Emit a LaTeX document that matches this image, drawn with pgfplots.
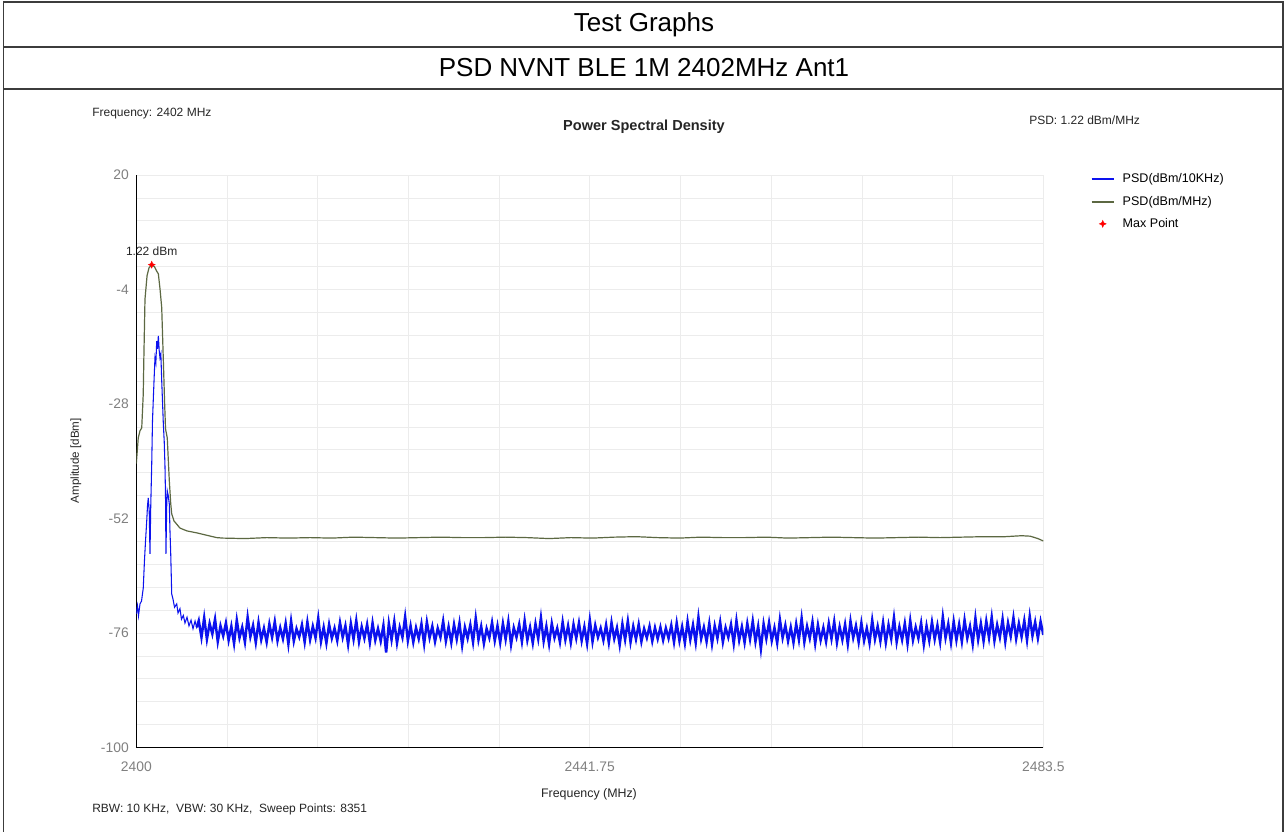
\documentclass[border=0pt]{standalone}
\usepackage{fontspec}
\setmainfont{Liberation Sans}
\usepackage{pgfplots}
\pgfplotsset{compat=1.18}
\usetikzlibrary{plotmarks}
\definecolor{psdblue}{RGB}{12,18,238}
\definecolor{psdgreen}{RGB}{92,104,66}
\definecolor{gridc}{RGB}{236,236,236}
\definecolor{tickc}{RGB}{128,128,128}
\definecolor{framec}{RGB}{60,60,60}
\pgfdeclareplotmark{star4}{%
  \pgfpathmoveto{\pgfqpoint{0pt}{\pgfplotmarksize}}%
  \pgfpathlineto{\pgfqpoint{0.3\pgfplotmarksize}{0.3\pgfplotmarksize}}%
  \pgfpathlineto{\pgfqpoint{\pgfplotmarksize}{0pt}}%
  \pgfpathlineto{\pgfqpoint{0.3\pgfplotmarksize}{-0.3\pgfplotmarksize}}%
  \pgfpathlineto{\pgfqpoint{0pt}{-\pgfplotmarksize}}%
  \pgfpathlineto{\pgfqpoint{-0.3\pgfplotmarksize}{-0.3\pgfplotmarksize}}%
  \pgfpathlineto{\pgfqpoint{-\pgfplotmarksize}{0pt}}%
  \pgfpathlineto{\pgfqpoint{-0.3\pgfplotmarksize}{0.3\pgfplotmarksize}}%
  \pgfpathclose
  \pgfusepathqfillstroke}
\begin{document}
\begin{tikzpicture}
\begin{scope}[x=0.75pt,y=0.75pt]
\useasboundingbox (0,0) rectangle (1287,831);
\fill[white] (0,0) rectangle (1287,831);
\end{scope}
\begin{axis}[
  at={(102.225pt,63.225pt)}, anchor=south west,
  scale only axis, width=680.25pt, height=429.3pt,
  xmin=2400, xmax=2483.5, ymin=-100, ymax=20,
  clip mode=individual,
  axis lines=left, axis line style={-, black, line width=0.8pt},
  xtick={2400,2441.75,2483.5}, xticklabels={2400,2441.75,2483.5},
  ytick={-100,-76,-52,-28,-4,20}, yticklabels={-100,-76,-52,-28,-4,20},
  minor x tick num=4, minor y tick num=4,
  grid=both,
  major grid style={gridc, line width=0.6pt},
  minor grid style={gridc, line width=0.6pt},
  tick style={draw=none},
  ticklabel style={font=\fontsize{10.4}{12}\selectfont, text=tickc},
  xticklabel style={yshift=-5pt},
  legend style={at={(1.052,1.0075)}, anchor=north west, draw=none, fill=none,
    font=\fontsize{9.4}{11}\selectfont, row sep=4.4pt, column sep=4pt, inner sep=0pt,
    cells={anchor=west}},
  legend image code/.code={\draw[mark repeat=2,mark phase=2,#1,line width=1.5pt] plot coordinates {(0pt,0pt)(8.25pt,0pt)(16.5pt,0pt)};},
]
% PSD dBm/10KHz : main lobe
\addplot[psdblue, line width=0.8pt] coordinates {
(2400,-72.0)(2400.11,-70.3)(2400.20,-72.4)(2400.34,-69.9)(2400.48,-69.3)(2400.64,-66.6)(2400.75,-60.9)(2400.85,-56.7)(2400.96,-52.5)(2401.03,-49.4)
(2401.10,-47.7)(2401.19,-50.4)(2401.26,-59.4)(2401.33,-49.4)(2401.42,-40.6)(2401.49,-31.6)(2401.57,-26.7)(2401.65,-22.1)(2401.72,-18.3)(2401.80,-19.4)
(2401.88,-14.8)(2401.95,-16.4)(2402.03,-13.7)(2402.11,-16.8)(2402.18,-18.3)(2402.26,-17.5)(2402.34,-23.1)(2402.41,-27.3)(2402.49,-32.2)(2402.57,-35.8)
(2402.64,-41.0)(2402.69,-47.5)(2402.73,-59.4)(2402.80,-49.4)(2402.85,-46.2)(2402.95,-47.3)(2403.04,-49.0)(2403.10,-54.6)(2403.17,-59.4)(2403.26,-67.8)
(2403.38,-68.9)(2403.52,-70.6)(2403.72,-69.9)(2403.84,-71.8)(2404.02,-70.9)(2404.16,-73.1)(2404.33,-72.3)(2404.48,-73.9)(2404.67,-72.7)(2404.85,-74.5)
(2405.04,-73.3)(2405.22,-75.1)(2405.41,-73.5)(2405.56,-74.8)(2405.75,-73.4)
};
\addlegendentry{PSD(dBm/10KHz)}
% PSD dBm/10KHz : noise floor
\addplot[psdblue, line width=1.85pt, forget plot] coordinates {
(2405.56,-74.8)
(2405.75,-73.4)(2406,-76.9)(2406.25,-72.8)(2406.5,-77.3)(2406.75,-74.0)(2407,-76.2)(2407.25,-73.1)(2407.5,-77.8)(2407.75,-74.5)(2408,-76.6)
(2408.25,-73.9)(2408.5,-77.5)(2408.75,-74.6)(2409,-78.2)(2409.25,-73.3)(2409.5,-77.0)(2409.75,-74.8)(2410,-77.9)(2410.25,-72.7)(2410.5,-76.8)
(2410.75,-74.4)(2411,-78.0)(2411.25,-73.8)(2411.5,-77.4)(2411.75,-75.0)(2412,-77.9)(2412.25,-74.1)(2412.5,-76.9)(2412.75,-73.6)(2413,-77.6)
(2413.25,-74.9)(2413.5,-77.2)(2413.75,-74.0)(2414,-78.3)(2414.25,-73.5)(2414.5,-77.7)(2414.75,-75.1)(2415,-76.8)(2415.25,-74.3)(2415.5,-77.9)
(2415.75,-73.7)(2416,-77.4)(2416.25,-74.6)(2416.5,-77.0)(2416.75,-72.9)(2417,-77.8)(2417.25,-74.8)(2417.5,-78.1)(2417.75,-74.2)(2418,-77.1)
(2418.25,-75.0)(2418.5,-77.6)(2418.75,-73.8)(2419,-76.9)(2419.25,-74.5)(2419.5,-78.4)(2419.75,-74.0)(2420,-77.3)(2420.25,-73.4)(2420.5,-77.8)
(2420.75,-74.7)(2421,-77.1)(2421.25,-74.2)(2421.5,-78.0)(2421.75,-73.9)(2422,-77.5)(2422.25,-75.1)(2422.5,-77.7)(2422.75,-74.4)(2423,-80.1)
(2423.25,-74.0)(2423.5,-77.4)(2423.75,-73.6)(2424,-78.1)(2424.25,-74.8)(2424.5,-76.9)(2424.75,-72.6)(2425,-77.6)(2425.25,-74.5)(2425.5,-77.9)
(2425.75,-74.9)(2426,-77.2)(2426.25,-74.1)(2426.5,-78.3)(2426.75,-73.7)(2427,-77.0)(2427.25,-74.6)(2427.5,-77.8)(2427.75,-75.0)(2428,-76.9)
(2428.25,-73.5)(2428.5,-77.7)(2428.75,-74.7)(2429,-78.0)(2429.25,-74.2)(2429.5,-77.3)(2429.75,-73.9)(2430,-78.6)(2430.25,-74.8)(2430.5,-77.1)
(2430.75,-74.3)(2431,-77.9)(2431.25,-72.9)(2431.5,-77.4)(2431.75,-74.6)(2432,-78.2)(2432.25,-75.1)(2432.5,-77.0)(2432.75,-73.8)(2433,-77.6)
(2433.25,-74.5)(2433.5,-78.0)(2433.75,-74.0)(2434,-77.3)(2434.25,-73.6)(2434.5,-78.4)(2434.75,-74.9)(2435,-76.9)(2435.25,-74.2)(2435.5,-77.8)
(2435.75,-73.4)(2436,-77.5)(2436.25,-74.8)(2436.5,-78.1)(2436.75,-74.1)(2437,-77.2)(2437.25,-72.8)(2437.5,-77.7)(2437.75,-74.6)(2438,-78.3)
(2438.25,-74.0)(2438.5,-77.0)(2438.75,-75.0)(2439,-77.9)(2439.25,-73.7)(2439.5,-77.4)(2439.75,-74.5)(2440,-78.0)(2440.25,-74.2)(2440.5,-77.1)
(2440.75,-73.9)(2441,-77.6)(2441.25,-74.7)(2441.5,-78.2)(2441.75,-73.3)(2442,-77.8)(2442.25,-74.4)(2442.5,-76.9)(2442.75,-75.0)(2443,-77.5)
(2443.25,-74.3)(2443.5,-78.0)(2443.75,-73.8)(2444,-77.2)(2444.25,-74.9)(2444.5,-78.5)(2444.75,-74.1)(2445,-77.4)(2445.25,-73.5)(2445.5,-77.9)
(2445.75,-74.6)(2446,-77.3)(2446.25,-74.2)(2446.5,-77.8)(2446.75,-75.1)(2447,-77.0)(2447.25,-74.6)(2447.5,-77.7)(2447.75,-74.9)(2448,-77.2)
(2448.25,-74.8)(2448.5,-77.5)(2448.75,-75.0)(2449,-77.1)(2449.25,-74.4)(2449.5,-77.9)(2449.75,-73.9)(2450,-77.6)(2450.25,-74.7)(2450.5,-78.1)
(2450.75,-73.6)(2451,-77.4)(2451.25,-74.3)(2451.5,-78.0)(2451.75,-72.7)(2452,-77.2)(2452.25,-74.8)(2452.5,-77.8)(2452.75,-74.0)(2453,-78.3)
(2453.25,-74.5)(2453.5,-77.1)(2453.75,-73.7)(2454,-77.9)(2454.25,-74.9)(2454.5,-76.9)(2454.75,-74.2)(2455,-78.2)(2455.25,-73.4)(2455.5,-77.5)
(2455.75,-74.7)(2456,-78.0)(2456.25,-74.0)(2456.5,-77.3)(2456.75,-73.5)(2457,-77.8)(2457.25,-74.6)(2457.5,-79.3)(2457.75,-74.1)(2458,-77.2)
(2458.25,-73.8)(2458.5,-77.6)(2458.75,-74.9)(2459,-78.1)(2459.25,-73.2)(2459.5,-77.0)(2459.75,-74.4)(2460,-77.7)(2460.25,-74.8)(2460.5,-78.0)
(2460.75,-74.1)(2461,-77.4)(2461.25,-72.9)(2461.5,-77.9)(2461.75,-74.6)(2462,-77.1)(2462.25,-73.7)(2462.5,-78.2)(2462.75,-74.3)(2463,-77.5)
(2463.25,-74.9)(2463.5,-77.8)(2463.75,-74.0)(2464,-77.2)(2464.25,-73.6)(2464.5,-78.0)(2464.75,-74.7)(2465,-77.4)(2465.25,-74.2)(2465.5,-78.3)
(2465.75,-73.5)(2466,-77.0)(2466.25,-74.5)(2466.5,-77.9)(2466.75,-73.9)(2467,-77.6)(2467.25,-75.0)(2467.5,-78.1)(2467.75,-73.3)(2468,-77.3)
(2468.25,-74.6)(2468.5,-77.7)(2468.75,-73.8)(2469,-78.0)(2469.25,-74.3)(2469.5,-77.2)(2469.75,-72.8)(2470,-77.9)(2470.25,-74.7)(2470.5,-77.4)
(2470.75,-74.0)(2471,-78.2)(2471.25,-73.4)(2471.5,-77.5)(2471.75,-74.8)(2472,-77.1)(2472.25,-73.9)(2472.5,-78.4)(2472.75,-74.5)(2473,-77.6)
(2473.25,-73.7)(2473.5,-77.3)(2473.75,-74.4)(2474,-77.9)(2474.25,-72.6)(2474.5,-77.0)(2474.75,-74.1)(2475,-78.0)(2475.25,-73.6)(2475.5,-77.5)
(2475.75,-74.2)(2476,-77.8)(2476.25,-73.3)(2476.5,-77.1)(2476.75,-74.6)(2477,-78.3)(2477.25,-72.9)(2477.5,-77.4)(2477.75,-74.0)(2478,-77.7)
(2478.25,-73.5)(2478.5,-77.0)(2478.75,-72.7)(2479,-77.6)(2479.25,-74.3)(2479.5,-76.9)(2479.75,-73.1)(2480,-77.8)(2480.25,-73.9)(2480.5,-76.7)
(2480.75,-72.8)(2481,-77.2)(2481.25,-74.0)(2481.5,-76.8)(2481.75,-73.4)(2482,-77.5)(2482.25,-72.5)(2482.5,-76.6)(2482.75,-73.7)(2483,-77.1)
(2483.25,-73.6)(2483.5,-76.4)
};
% PSD dBm/MHz
\addplot[psdgreen, line width=0.9pt, line join=round] coordinates {
(2400,-40.5)(2400.18,-35.1)(2400.34,-33.6)(2400.50,-33.0)(2400.64,-25.9)(2400.69,-19.0)(2400.80,-6.0)(2400.99,-1.1)(2401.17,0.56)(2401.42,1.22)
(2401.68,0.77)(2401.86,-0.07)(2402.03,-0.7)(2402.18,-3.8)(2402.34,-7.8)(2402.49,-18.9)(2402.60,-27.3)(2402.69,-33.2)(2402.85,-35.1)(2402.95,-39.9)
(2403.04,-44.1)(2403.17,-48.9)(2403.26,-51.0)(2403.47,-52.5)(2404.02,-54.0)(2404.67,-54.6)(2405.56,-55.0)(2407.40,-56.0)
(2408,-56.1)(2410,-56.2)(2412,-56.0)(2414,-56.1)(2416,-56.0)(2418,-56.1)(2420,-55.9)(2422,-56.0)(2424,-56.1)(2426,-56.0)
(2428,-55.9)(2430,-56.0)(2432,-56.0)(2434,-55.9)(2436,-56.0)(2438,-56.2)(2440,-56.0)(2442,-56.1)(2444,-55.9)(2446,-55.8)
(2448,-56.0)(2450,-56.1)(2452,-55.9)(2454,-56.0)(2456,-56.0)(2458,-55.9)(2460,-56.1)(2462,-56.0)(2464,-55.9)(2466,-56.0)
(2468,-56.1)(2470,-56.0)(2472,-55.9)(2474,-56.0)(2476,-55.9)(2478,-55.8)(2480,-55.8)(2481.5,-55.6)(2482.3,-55.7)(2483,-56.2)(2483.5,-56.7)
};
\addlegendentry{PSD(dBm/MHz)}
% Max point
\addplot[only marks, mark=star4, red, mark size=2.6pt, mark options={fill=red, draw=red, line width=0.3pt}] coordinates {(2401.42,1.22)};
\addlegendentry{Max Point}
\node[above=5.5pt, text=black!85, font=\fontsize{9}{11}\selectfont, inner sep=1pt] at (axis cs:2401.42,1.22) {1.22 dBm};
\end{axis}
\begin{scope}[x=0.75pt,y=0.75pt]
% table frame
\draw[framec, line width=1.2pt] (3.5,831) -- (3.5,829.5) -- (1283,829.5) -- (1283,831);
\draw[framec, line width=1.2pt] (3.5,829.5) -- (3.5,0);
\draw[framec, line width=1.2pt] (1283,829.5) -- (1283,0);
\draw[framec, line width=1.2pt] (3.5,785) -- (1283,785);
\draw[framec, line width=1.2pt] (3.5,743) -- (1283,743);
\node[font=\fontsize{19.5}{22}\selectfont] at (644,807) {Test Graphs};
\node[font=\fontsize{19.5}{22}\selectfont] at (644,764) {PSD NVNT BLE 1M 2402MHz Ant1};
% chart texts
\node[anchor=west, font=\fontsize{9}{11}\selectfont, inner sep=0pt, text=black!85] at (92,718) {Frequency: 2402 MHz};
\node[font=\bfseries\fontsize{10.9}{13}\selectfont, inner sep=0pt, text=black!85] at (644,705) {Power Spectral Density};
\node[anchor=west, font=\fontsize{9}{11}\selectfont, inner sep=0pt, text=black!85] at (1029,712) {PSD: 1.22 dBm/MHz};
\node[rotate=90, font=\fontsize{8.7}{11}\selectfont, inner sep=0pt, text=black!85] at (76,371) {Amplitude [dBm]};
\node[font=\fontsize{9.3}{11}\selectfont, inner sep=0pt, text=black!85] at (589,38) {Frequency (MHz)};
\node[anchor=west, font=\fontsize{9}{11}\selectfont, inner sep=0pt, text=black!85] at (92,22) {RBW: 10 KHz,\ \ VBW: 30 KHz,\ \ Sweep Points: 8351};
\end{scope}
\end{tikzpicture}
\end{document}
